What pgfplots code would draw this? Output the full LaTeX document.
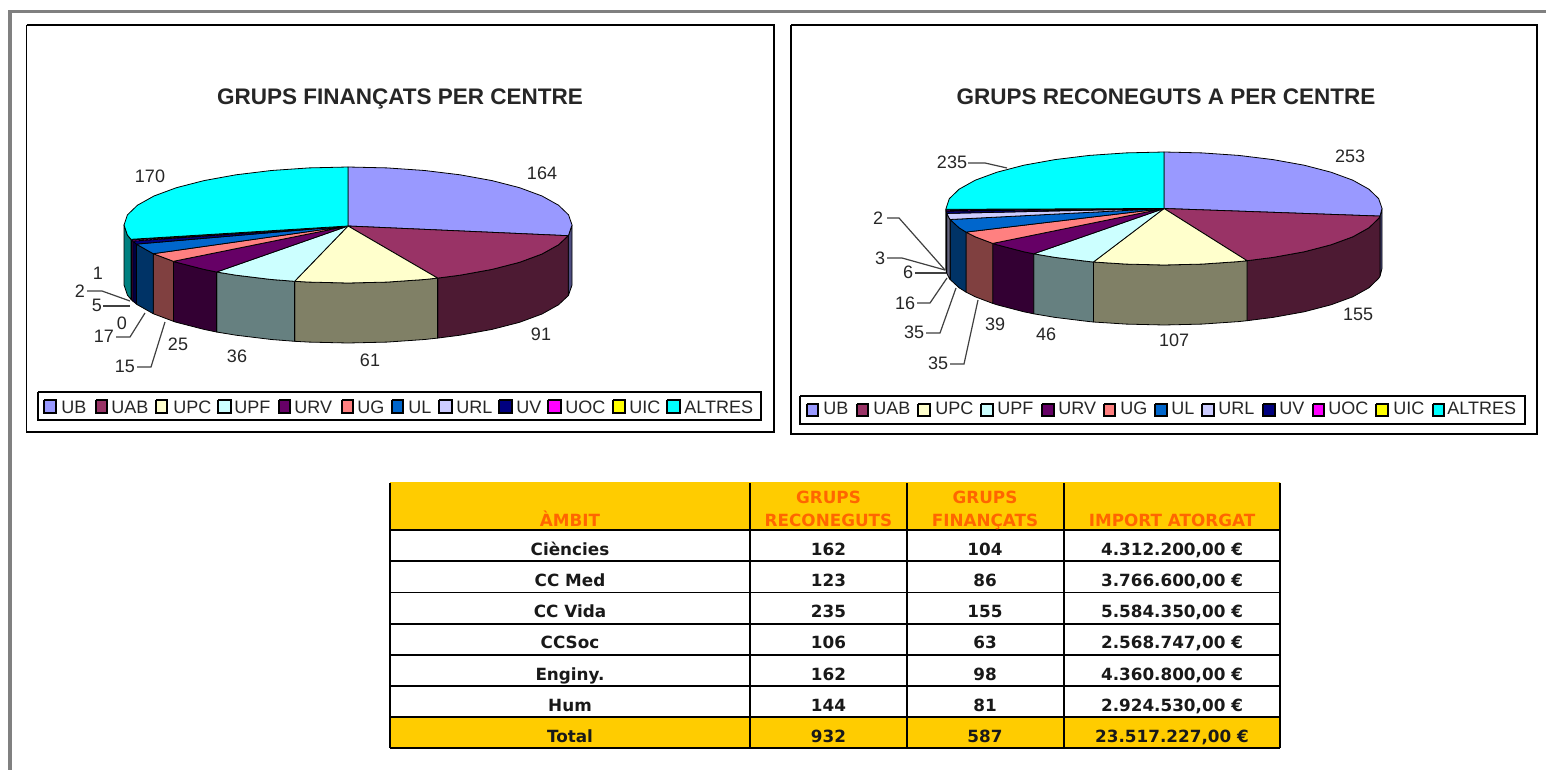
\documentclass[border=0pt]{standalone}
\usepackage{pgfplots}
\pgfplotsset{compat=1.18}
\usepackage{fontspec}
\setmainfont{Liberation Sans}
\newfontfamily\tablefont{DejaVu Sans}[BoldFont={DejaVu Sans Bold}]
\definecolor{cUB}{HTML}{9999FF}\definecolor{sUB}{HTML}{4D4D80}
\definecolor{cUAB}{HTML}{993366}\definecolor{sUAB}{HTML}{4D1A33}
\definecolor{cUPC}{HTML}{FFFFCC}\definecolor{sUPC}{HTML}{808066}
\definecolor{cUPF}{HTML}{CCFFFF}\definecolor{sUPF}{HTML}{668080}
\definecolor{cURV}{HTML}{660066}\definecolor{sURV}{HTML}{330033}
\definecolor{cUG}{HTML}{FF8080}\definecolor{sUG}{HTML}{804040}
\definecolor{cUL}{HTML}{0066CC}\definecolor{sUL}{HTML}{003366}
\definecolor{cURL}{HTML}{CCCCFF}\definecolor{sURL}{HTML}{666680}
\definecolor{cUV}{HTML}{000080}\definecolor{sUV}{HTML}{000040}
\definecolor{cUOC}{HTML}{FF00FF}\definecolor{sUOC}{HTML}{800080}
\definecolor{cUIC}{HTML}{FFFF00}\definecolor{sUIC}{HTML}{808000}
\definecolor{cALT}{HTML}{00FFFF}\definecolor{sALT}{HTML}{008080}
\definecolor{hdrfill}{HTML}{FFCC00}
\definecolor{hdrtext}{HTML}{FF6600}
\newcommand\poly[2]{\addplot[fill=#1,draw=black,line width=.4pt,line join=round] coordinates {#2};}
\newcommand\leader[1]{\addplot[draw=black!75,line width=.6pt] coordinates {#1};}
\newcommand\rect[6]{\addplot[fill=#5,draw=#6,line width=.7pt] coordinates {(#1,#2)(#3,#2)(#3,#4)(#1,#4)(#1,#2)};}
\newcommand\hl[3]{\addplot[draw=black,line width=.7pt] coordinates {(#1,#3)(#2,#3)};}
\newcommand\vl[3]{\addplot[draw=black,line width=.7pt] coordinates {(#1,#2)(#1,#3)};}
\newcommand\lab[3]{\node[font=\fontsize{9}{10}\selectfont,text=black!85,inner sep=0pt] at (axis cs:#1,#2) {#3};}
\newcommand\cell[3]{\node[font=\tablefont\bfseries\fontsize{8.4}{10}\selectfont,text=black!90,inner sep=0pt,anchor=base] at (axis cs:#1,#2+6) {#3};}
\newcommand\hcell[3]{\node[font=\tablefont\bfseries\fontsize{8.4}{10}\selectfont,text=hdrtext,inner sep=0pt,anchor=base] at (axis cs:#1,#2+6) {#3};}
\newcommand\legitem[8]{\addplot[fill=#5,draw=black,line width=.7pt] coordinates {(#1,#3)(#2,#3)(#2,#4)(#1,#4)(#1,#3)};
  \node[font=\fontsize{9}{10}\selectfont,text=black!85,anchor=base west,inner sep=0pt] at (axis cs:#6,#7) {#8};}
\newcommand\LL[5]{\legitem{#1}{#2}{400}{413}{#4}{#3}{413}{#5}}
\newcommand\LR[5]{\legitem{#1}{#2}{404}{416}{#4}{#3}{414}{#5}}
\begin{document}
\begin{tikzpicture}
\path[use as bounding box] (0,0) rectangle (773pt,385pt);
\begin{axis}[at={(0,0)},anchor=south west,width=773pt,height=385pt,scale only axis,
  hide axis,clip=false,xmin=0,xmax=1546,ymin=0,ymax=770,y dir=reverse,no markers]
% outer frame
\addplot[draw=black!50,line width=1.7pt] coordinates {(10,770)(10,11.5)(1546,11.5)};
% chart frames
\rect{26.5}{25}{774}{432}{white}{black}
\rect{791}{25}{1537}{434}{white}{black}
% legend boxes
\rect{38}{392}{761}{420}{white}{black}
\rect{800}{396}{1525}{424}{white}{black}
%% PIE 1 walls
\poly{sUB}{(572,225)(568.6,235.1)(568.2,235.7)(568.2,295.7)(568.6,295.1)(572,285)(572,225)}
\poly{sUAB}{(568.2,235.7)(558.5,244.8)(542,254)(519.6,262.3)(492,269.4)(460,275.2)(437.6,278.1)(437.6,338.1)(460,335.2)(492,329.4)(519.6,322.3)(542,314)(558.5,304.8)(568.2,295.7)(568.2,235.7)}
\poly{sUPC}{(437.6,278.1)(424.6,279.5)(386.9,282.1)(348,283)(309.1,282.1)(294.6,281.3)(294.6,341.3)(309.1,342.1)(348,343)(386.9,342.1)(424.6,339.5)(437.6,338.1)(437.6,278.1)}
\poly{sUPF}{(294.6,281.3)(271.4,279.5)(236,275.2)(216.6,272)(216.6,332)(236,335.2)(271.4,339.5)(294.6,341.3)(294.6,281.3)}
\poly{sURV}{(216.6,272)(204,269.4)(176.4,262.3)(173.4,261.3)(173.4,321.3)(176.4,322.3)(204,329.4)(216.6,332)(216.6,272)}
\poly{sUG}{(173.4,261.3)(154,254)(153.2,253.7)(153.2,313.7)(154,314)(173.4,321.3)(173.4,261.3)}
\poly{sUL}{(153.2,253.7)(137.5,244.8)(136.5,244.1)(136.5,304.1)(137.5,304.8)(153.2,313.7)(153.2,253.7)}
\poly{sUV}{(136.5,244.1)(132.8,241.1)(132.8,301.1)(136.5,304.1)(136.5,244.1)}
\poly{sUOC}{(132.8,241.1)(131.5,239.9)(131.5,299.9)(132.8,301.1)(132.8,241.1)}
\poly{sUIC}{(131.5,239.9)(130.9,239.3)(130.9,299.3)(131.5,299.9)(131.5,239.9)}
\poly{sALT}{(130.9,239.3)(127.4,235.1)(124,225)(124,285)(127.4,295.1)(130.9,299.3)(130.9,239.3)}
%% PIE 1 tops
\poly{cUB}{(348,226)(348,167)(386.9,167.9)(424.6,170.5)(460,174.8)(492,180.6)(519.6,187.7)(542,196)(558.5,205.2)(568.6,214.9)(572,225)(568.6,235.1)(568.2,235.7)(348,226)}
\poly{cUAB}{(348,226)(568.2,235.7)(558.5,244.8)(542,254)(519.6,262.3)(492,269.4)(460,275.2)(437.6,278.1)(348,226)}
\poly{cUPC}{(348,226)(437.6,278.1)(424.6,279.5)(386.9,282.1)(348,283)(309.1,282.1)(294.6,281.3)(348,226)}
\poly{cUPF}{(348,226)(294.6,281.3)(271.4,279.5)(236,275.2)(216.6,272)(348,226)}
\poly{cURV}{(348,226)(216.6,272)(204,269.4)(176.4,262.3)(173.4,261.3)(348,226)}
\poly{cUG}{(348,226)(173.4,261.3)(154,254)(153.2,253.7)(348,226)}
\poly{cUL}{(348,226)(153.2,253.7)(137.5,244.8)(136.5,244.1)(348,226)}
\poly{cUV}{(348,226)(136.5,244.1)(132.8,241.1)(348,226)}
\poly{cUOC}{(348,226)(132.8,241.1)(131.5,239.9)(348,226)}
\poly{cUIC}{(348,226)(131.5,239.9)(130.9,239.3)(348,226)}
\poly{cALT}{(348,226)(130.9,239.3)(127.4,235.1)(124,225)(127.4,214.9)(137.5,205.2)(154,196)(176.4,187.7)(204,180.6)(236,174.8)(271.4,170.5)(309.1,167.9)(348,167)(348,226)}
%% PIE 2 walls
\poly{sUB}{(1382,208.5)(1380,216.1)(1380,276.1)(1382,268.5)(1382,208.5)}
\poly{sUAB}{(1380,216.1)(1378.7,218.3)(1368.9,227.8)(1352.8,236.8)(1331,244.8)(1304.1,251.8)(1273,257.4)(1247,260.7)(1247,320.7)(1273,317.4)(1304.1,311.8)(1331,304.8)(1352.8,296.8)(1368.9,287.8)(1378.7,278.3)(1380,276.1)(1380,216.1)}
\poly{sUPC}{(1247,260.7)(1238.6,261.6)(1201.9,264.1)(1164,265)(1126.1,264.1)(1093.4,262)(1093.4,322)(1126.1,324.1)(1164,325)(1201.9,324.1)(1238.6,321.6)(1247,320.7)(1247,260.7)}
\poly{sUPF}{(1093.4,262)(1089.4,261.6)(1055,257.4)(1033.7,253.8)(1033.7,313.8)(1055,317.4)(1089.4,321.6)(1093.4,322)(1093.4,262)}
\poly{sURV}{(1033.7,253.8)(1023.9,251.8)(997,244.8)(992.7,243.4)(992.7,303.4)(997,304.8)(1023.9,311.8)(1033.7,313.8)(1033.7,253.8)}
\poly{sUG}{(992.7,243.4)(975.2,236.8)(966,232.1)(966,292.1)(975.2,296.8)(992.7,303.4)(992.7,243.4)}
\poly{sUL}{(966,232.1)(959.1,227.8)(950.1,219.5)(950.1,279.5)(959.1,287.8)(966,292.1)(966,232.1)}
\poly{sURL}{(950.1,219.5)(949.3,218.3)(946.8,213.4)(946.8,273.4)(949.3,278.3)(950.1,279.5)(950.1,219.5)}
\poly{sUV}{(946.8,213.4)(946.2,211.2)(946.2,271.2)(946.8,273.4)(946.8,213.4)}
\poly{sUOC}{(946.2,211.2)(946.1,210)(946.1,270)(946.2,271.2)(946.2,211.2)}
\poly{sUIC}{(946.1,210)(946,209.3)(946,269.3)(946.1,270)(946.1,210)}
\poly{sALT}{(946,209.3)(946,208.5)(946,268.5)(946,269.3)(946,209.3)}
%% PIE 2 tops
\poly{cUB}{(1164,208.5)(1164,152)(1201.9,152.9)(1238.6,155.4)(1273,159.6)(1304.1,165.2)(1331,172.2)(1352.8,180.2)(1368.9,189.2)(1378.7,198.7)(1382,208.5)(1380,216.1)(1164,208.5)}
\poly{cUAB}{(1164,208.5)(1380,216.1)(1378.7,218.3)(1368.9,227.8)(1352.8,236.8)(1331,244.8)(1304.1,251.8)(1273,257.4)(1247,260.7)(1164,208.5)}
\poly{cUPC}{(1164,208.5)(1247,260.7)(1238.6,261.6)(1201.9,264.1)(1164,265)(1126.1,264.1)(1093.4,262)(1164,208.5)}
\poly{cUPF}{(1164,208.5)(1093.4,262)(1089.4,261.6)(1055,257.4)(1033.7,253.8)(1164,208.5)}
\poly{cURV}{(1164,208.5)(1033.7,253.8)(1023.9,251.8)(997,244.8)(992.7,243.4)(1164,208.5)}
\poly{cUG}{(1164,208.5)(992.7,243.4)(975.2,236.8)(966,232.1)(1164,208.5)}
\poly{cUL}{(1164,208.5)(966,232.1)(959.1,227.8)(950.1,219.5)(1164,208.5)}
\poly{cURL}{(1164,208.5)(950.1,219.5)(949.3,218.3)(946.8,213.4)(1164,208.5)}
\poly{cUV}{(1164,208.5)(946.8,213.4)(946.2,211.2)(1164,208.5)}
\poly{cUOC}{(1164,208.5)(946.2,211.2)(946.1,210)(1164,208.5)}
\poly{cUIC}{(1164,208.5)(946.1,210)(946,209.3)(1164,208.5)}
\poly{cALT}{(1164,208.5)(946,209.3)(946,208.5)(949.3,198.7)(959.1,189.2)(975.2,180.2)(997,172.2)(1023.9,165.2)(1055,159.6)(1089.4,155.4)(1126.1,152.9)(1164,152)(1164,208.5)}
%% leaders
\leader{(137,367)(151,367)(165,322)}
\leader{(116,337)(130,337)(145,313)}
\leader{(103,306)(130,306)}
\leader{(87,291)(102,291)(130,301)}
\leader{(968,163)(985,163)(1007,168)}
\leader{(887,218)(899,218)(945,270)}
\leader{(887,258)(902,258)(945,270)}
\leader{(915,273)(946,273)}
\leader{(917,303)(930,303)(947,278)}
\leader{(926,333)(940,333)(956,288)}
\leader{(950,364)(964,364)(978,300)}
%% titles
\node[font=\bfseries\fontsize{11.25}{14}\selectfont,text=black!85,inner sep=0pt,anchor=base] at (axis cs:400,105) {GRUPS FINANÇATS PER CENTRE};
\node[font=\bfseries\fontsize{11.25}{14}\selectfont,text=black!85,inner sep=0pt,anchor=base] at (axis cs:1166,105) {GRUPS RECONEGUTS A PER CENTRE};
%% labels
\lab{150}{176}{170}\lab{542}{173}{164}\lab{541}{334}{91}\lab{370}{360}{61}\lab{237}{356}{36}\lab{178}{344}{25}
\lab{125}{366}{15}\lab{104}{336}{17}\lab{122}{323}{0}\lab{97}{305}{5}\lab{80}{291}{2}\lab{98}{273}{1}
\lab{952}{162}{235}\lab{1350}{156}{253}\lab{1358}{314}{155}\lab{1174}{340}{107}\lab{1046}{334}{46}\lab{995}{324}{39}
\lab{938}{363}{35}\lab{914}{332}{35}\lab{905}{303}{16}\lab{908}{272}{6}\lab{880}{258}{3}\lab{878}{218}{2}
%% legends
\LL{44}{56}{61}{cUB}{UB}\LL{96}{107}{111}{cUAB}{UAB}\LL{156}{167}{173}{cUPC}{UPC}\LL{218}{231}{234}{cUPF}{UPF}
\LL{279}{290}{294}{cURV}{URV}\LL{342}{353}{357}{cUG}{UG}\LL{392}{403}{408}{cUL}{UL}\LL{439}{452}{456}{cURL}{URL}
\LL{499}{512}{516}{cUV}{UV}\LL{548}{561}{565}{cUOC}{UOC}\LL{613}{625}{629}{cUIC}{UIC}\LL{667}{680}{684}{cALT}{ALTRES}
\LR{807}{818}{823}{cUB}{UB}\LR{857}{868}{873}{cUAB}{UAB}\LR{918}{930}{935}{cUPC}{UPC}\LR{981}{993}{997}{cUPF}{UPF}
\LR{1042}{1054}{1058}{cURV}{URV}\LR{1104}{1115}{1120}{cUG}{UG}\LR{1155}{1167}{1171}{cUL}{UL}\LR{1202}{1214}{1218}{cURL}{URL}
\LR{1263}{1275}{1279}{cUV}{UV}\LR{1313}{1324}{1328}{cUOC}{UOC}\LR{1376}{1388}{1393}{cUIC}{UIC}\LR{1433}{1444}{1447}{cALT}{ALTRES}
%% table
\addplot[fill=hdrfill,draw=none] coordinates {(390,482)(1280,482)(1280,530)(390,530)(390,482)};
\addplot[fill=hdrfill,draw=none] coordinates {(390,717)(1280,717)(1280,748)(390,748)(390,717)};
\hl{390}{1280}{530}\hl{390}{1280}{561}\hl{390}{1280}{592.5}\hl{390}{1280}{624}\hl{390}{1280}{655}\hl{390}{1280}{686}\hl{390}{1280}{717}\hl{390}{1280}{748}
\vl{390}{483}{748}\vl{750}{483}{748}\vl{907}{483}{748}\vl{1064}{483}{748}\vl{1280}{483}{748}
\hcell{570}{520}{ÀMBIT}\hcell{828.5}{497}{GRUPS}\hcell{828.5}{520}{RECONEGUTS}\hcell{985}{497}{GRUPS}\hcell{985}{520}{FINANÇATS}\hcell{1172}{520}{IMPORT ATORGAT}
\cell{570}{549}{Ciències}\cell{828.5}{549}{162}\cell{985}{549}{104}\cell{1172}{549}{4.312.200,00 €}
\cell{570}{580}{CC Med}\cell{828.5}{580}{123}\cell{985}{580}{86}\cell{1172}{580}{3.766.600,00 €}
\cell{570}{611.5}{CC Vida}\cell{828.5}{611.5}{235}\cell{985}{611.5}{155}\cell{1172}{611.5}{5.584.350,00 €}
\cell{570}{642.5}{CCSoc}\cell{828.5}{642.5}{106}\cell{985}{642.5}{63}\cell{1172}{642.5}{2.568.747,00 €}
\cell{570}{674}{Enginy.}\cell{828.5}{674}{162}\cell{985}{674}{98}\cell{1172}{674}{4.360.800,00 €}
\cell{570}{705}{Hum}\cell{828.5}{705}{144}\cell{985}{705}{81}\cell{1172}{705}{2.924.530,00 €}
\cell{570}{736}{Total}\cell{828.5}{736}{932}\cell{985}{736}{587}\cell{1172}{736}{23.517.227,00 €}
\end{axis}
\end{tikzpicture}
\end{document}
